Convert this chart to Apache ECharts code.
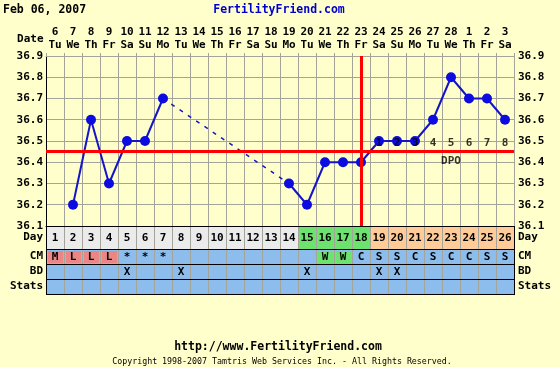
<!DOCTYPE html>
<html>
<head>
<meta charset="utf-8">
<script src="https://cdn.jsdelivr.net/npm/echarts@6/dist/echarts.min.js"></script>
<style>
html,body{margin:0;padding:0;background:#ffffcc;}
#chart{width:560px;height:367px;}
</style>
</head>
<body>
<div id="chart"></div>
<script>
// ---------- data ----------
const chartDate = 'Feb 06, 2007';
const siteName = 'FertilityFriend.com';
const siteUrl = 'http://www.FertilityFriend.com';
const copyright = 'Copyright 1998-2007 Tamtris Web Services Inc. - All Rights Reserved.';

const dates = ['6','7','8','9','10','11','12','13','14','15','16','17','18','19','20','21','22','23','24','25','26','27','28','1','2','3'];
const weekdays = ['Tu','We','Th','Fr','Sa','Su','Mo','Tu','We','Th','Fr','Sa','Su','Mo','Tu','We','Th','Fr','Sa','Su','Mo','Tu','We','Th','Fr','Sa'];
const cycleDays = ['1','2','3','4','5','6','7','8','9','10','11','12','13','14','15','16','17','18','19','20','21','22','23','24','25','26'];
const temps = [null,36.2,36.6,36.3,36.5,36.5,36.7,null,null,null,null,null,null,36.3,36.2,36.4,36.4,36.4,36.5,36.5,36.5,36.6,36.8,36.7,36.7,36.6];
const dayPhase = ['n','n','n','n','n','n','n','n','n','n','n','n','n','n','f','f','f','f','l','l','l','l','l','l','l','l'];
const cm = ['M','L','L','L','*','*','*','','','','','','','','','W','W','C','S','S','C','S','C','C','S','S'];
const bd = ['','','','','X','','','X','','','','','','','X','','','','X','X','','','','','',''];
const stats = ['','','','','','','','','','','','','','','','','','','','','','','','','',''];
const tableRows = ['CM','BD','Stats'];
const dpoLabels = ['1','2','3','4','5','6','7','8'];
const dpoStartDay = 19;
const coverline = 36.45;
const ovulationDay = 18;
const yTicks = ['36.1','36.2','36.3','36.4','36.5','36.6','36.7','36.8','36.9'];

// ---------- styles ----------
const FONT = 'DejaVu Sans Mono';
const BG = '#ffffcc';
const GRID_C = '#a4a49a';
const phaseColor = {n:'#ebebeb', f:'#6ee26e', l:'#ffcc99'};
const cmColor = {M:'#ec8585', L:'#ec8585', W:'#6ee26e'};
const ROW_BG = '#8dbded';
const txt = {fontFamily: FONT, fontWeight: 'bold', fontSize: 11, color: '#000'};

// dashed gap line: endpoints of gaps in temps
const gapLine = temps.map(() => null);
(function(){
  let last = -1;
  temps.forEach((t, i) => {
    if (t == null) return;
    if (last >= 0 && i - last > 1) { gapLine[last] = temps[last]; gapLine[i] = t; }
    last = i;
  });
})();

const crisp = v => Math.round(v - 0.5) + 0.5;

const tableSeriesData = [];
const tableTexts = [];
[cm, bd, stats].forEach((arr, r) => arr.forEach((t, c) => { tableSeriesData.push([c, r]); tableTexts.push(t); }));

const chart = echarts.init(document.getElementById('chart'), null, {renderer: 'canvas'});

const option = {
  backgroundColor: BG,
  animation: false,
  textStyle: {fontFamily: FONT},
  grid: [
    {left: 46, top: 56, width: 468, height: 170},
    {left: 46, top: 226, width: 468, height: 23},
    {left: 46, top: 249, width: 468, height: 45}
  ],
  xAxis: [
    {type: 'category', gridIndex: 0, data: cycleDays, position: 'bottom',
     axisLine: {lineStyle: {color: '#000', width: 1}}, axisTick: {show: false}, axisLabel: {show: false},
     splitLine: {show: true, interval: 0, lineStyle: {color: GRID_C, width: 1}}},
    {type: 'category', gridIndex: 0, data: dates, position: 'top',
     axisLine: {show: true, lineStyle: {color: GRID_C}},
     axisTick: {show: true, interval: 0, length: 3, lineStyle: {color: GRID_C}},
     axisLabel: {interval: 0, margin: 5, lineHeight: 12.5, fontFamily: FONT, fontWeight: 'bold', fontSize: 11, color: '#000',
       formatter: (v, i) => v + '\n' + weekdays[i]}},
    {type: 'category', gridIndex: 1, data: cycleDays, axisLine: {show: false}, axisTick: {show: false}, axisLabel: {show: false}, splitLine: {show: false}},
    {type: 'category', gridIndex: 2, data: cycleDays, axisLine: {show: false}, axisTick: {show: false}, axisLabel: {show: false}, splitLine: {show: false}}
  ],
  yAxis: [
    {type: 'value', gridIndex: 0, min: 36.1, max: 36.9, interval: 0.1, position: 'left',
     axisLine: {show: true, lineStyle: {color: '#000'}}, axisTick: {show: false},
     axisLabel: {margin: 3, fontFamily: FONT, fontWeight: 'bold', fontSize: 11, color: '#000', formatter: v => v.toFixed(1)},
     splitLine: {show: true, lineStyle: {color: GRID_C}}},
    {type: 'value', gridIndex: 0, min: 36.1, max: 36.9, interval: 0.1, position: 'right',
     axisLine: {show: true, lineStyle: {color: GRID_C}}, axisTick: {show: false},
     axisLabel: {margin: 4, fontFamily: FONT, fontWeight: 'bold', fontSize: 11, color: '#000', formatter: v => v.toFixed(1)},
     splitLine: {show: false}},
    {type: 'category', gridIndex: 1, data: ['Day'], position: 'left', axisLine: {show: false}, axisTick: {show: false},
     axisLabel: {margin: 3, fontFamily: FONT, fontWeight: 'bold', fontSize: 11, color: '#000'}},
    {type: 'category', gridIndex: 1, data: ['Day'], position: 'right', axisLine: {show: false}, axisTick: {show: false},
     axisLabel: {margin: 4, fontFamily: FONT, fontWeight: 'bold', fontSize: 11, color: '#000'}},
    {type: 'category', gridIndex: 2, data: tableRows, inverse: true, position: 'left', axisLine: {show: false}, axisTick: {show: false},
     axisLabel: {margin: 3, fontFamily: FONT, fontWeight: 'bold', fontSize: 11, color: '#000'}},
    {type: 'category', gridIndex: 2, data: tableRows, inverse: true, position: 'right', axisLine: {show: false}, axisTick: {show: false},
     axisLabel: {margin: 4, fontFamily: FONT, fontWeight: 'bold', fontSize: 11, color: '#000'}}
  ],
  series: [
    {
      type: 'line', xAxisIndex: 0, yAxisIndex: 0, data: gapLine, connectNulls: true,
      showSymbol: false, symbol: 'none', z: 3,
      lineStyle: {color: '#1414c8', width: 1.5, type: [4, 6]}
    },
    {
      type: 'line', xAxisIndex: 0, yAxisIndex: 0, data: temps, connectNulls: false,
      symbol: 'circle', symbolSize: 10, showAllSymbol: true, z: 4,
      itemStyle: {color: '#0c0ce0'},
      lineStyle: {color: '#1414c8', width: 2},
      markLine: {
        silent: true, symbol: 'none', label: {show: false},
        lineStyle: {color: '#ff0000', width: 3, type: 'solid'},
        data: [{yAxis: coverline}, {xAxis: ovulationDay - 1}]
      }
    },
    {
      type: 'scatter', xAxisIndex: 0, yAxisIndex: 0, symbolSize: 0, z: 6,
      data: dpoLabels.map((d, i) => [dpoStartDay - 1 + i, 36.5]),
      label: {show: true, position: 'inside', offset: [0, 2], fontFamily: FONT, fontWeight: 'bold', fontSize: 11, color: '#000',
        formatter: p => dpoLabels[p.dataIndex]}
    },
    {
      type: 'scatter', xAxisIndex: 0, yAxisIndex: 0, symbolSize: 0, z: 6,
      data: [[dpoStartDay + 3, 36.4]],
      label: {show: true, position: 'inside', offset: [0, -1], fontFamily: FONT, fontWeight: 'bold', fontSize: 11, color: '#000',
        formatter: 'DPO'}
    },
    {
      type: 'custom', xAxisIndex: 2, yAxisIndex: 2, z: 2,
      data: cycleDays.map((d, i) => [i, 0]),
      renderItem: (params, api) => {
        const i = api.value(0);
        const c = api.coord([i, 0]);
        const s = api.size([1, 1]);
        const x0 = crisp(c[0] - s[0] / 2), x1 = crisp(c[0] + s[0] / 2);
        const y0 = crisp(c[1] - s[1] / 2), y1 = crisp(c[1] + s[1] / 2);
        const ch = [
          {type: 'rect', shape: {x: x0, y: y0, width: x1 - x0, height: y1 - y0}, style: {fill: phaseColor[dayPhase[i]]}, z2: 0},
          {type: 'line', shape: {x1: x1, y1: y0, x2: x1, y2: y1}, style: {stroke: i === cycleDays.length - 1 ? '#000' : GRID_C, lineWidth: 1}, z2: 1},
          {type: 'line', shape: {x1: x0 - 0.5, y1: y0, x2: x1 + 0.5, y2: y0}, style: {stroke: '#000', lineWidth: 1}, z2: 2},
          {type: 'line', shape: {x1: x0 - 0.5, y1: y1, x2: x1 + 0.5, y2: y1}, style: {stroke: '#000', lineWidth: 1}, z2: 2},
          {type: 'text', x: c[0], y: c[1] + 1, style: {text: cycleDays[i], textAlign: 'center', textVerticalAlign: 'middle',
            font: 'bold 11px "' + FONT + '"', fill: '#000'}, z2: 3}
        ];
        if (i === 0) ch.push({type: 'line', shape: {x1: x0, y1: y0, x2: x0, y2: y1}, style: {stroke: '#000', lineWidth: 1}, z2: 2});
        return {type: 'group', children: ch};
      }
    },
    {
      type: 'custom', xAxisIndex: 3, yAxisIndex: 4, z: 2,
      data: tableSeriesData,
      renderItem: (params, api) => {
        const i = api.value(0), r = api.value(1);
        const c = api.coord([i, r]);
        const s = api.size([1, 1]);
        const x0 = crisp(c[0] - s[0] / 2), x1 = crisp(c[0] + s[0] / 2);
        const y0 = crisp(c[1] - s[1] / 2), y1 = crisp(c[1] + s[1] / 2);
        const t = tableTexts[params.dataIndex];
        const ch = [
          {type: 'rect', shape: {x: x0, y: y0, width: x1 - x0, height: y1 - y0}, style: {fill: ROW_BG}, z2: 0},
          {type: 'line', shape: {x1: x1, y1: y0, x2: x1, y2: y1}, style: {stroke: i === cycleDays.length - 1 ? '#000' : GRID_C, lineWidth: 1}, z2: 1},
          {type: 'line', shape: {x1: x0 - 0.5, y1: y1, x2: x1 + 0.5, y2: y1}, style: {stroke: '#000', lineWidth: 1}, z2: 2}
        ];
        if (r === 0 && cmColor[t]) {
          ch.push({type: 'rect', shape: {x: x0 + 1.5, y: y0 + 1.5, width: x1 - x0 - 3, height: y1 - y0 - 3}, style: {fill: cmColor[t]}, z2: 0.5});
        }
        if (i === 0) ch.push({type: 'line', shape: {x1: x0, y1: y0, x2: x0, y2: y1}, style: {stroke: '#000', lineWidth: 1}, z2: 2});
        if (t) ch.push({type: 'text', x: c[0], y: c[1] + 1, style: {text: t, textAlign: 'center', textVerticalAlign: 'middle',
            font: 'bold 11px "' + FONT + '"', fill: '#000'}, z2: 3});
        return {type: 'group', children: ch};
      }
    }
  ],
  graphic: [
    {type: 'text', left: 3, top: 4, style: {text: chartDate, font: 'bold 11.5px "' + FONT + '"', fill: '#000'}},
    {type: 'text', x: 279, y: 10, style: {text: siteName, font: 'bold 11.5px "' + FONT + '"', fill: '#0000cc', textAlign: 'center', textVerticalAlign: 'middle'}},
    {type: 'text', x: 43.5, y: 39, style: {text: 'Date', font: 'bold 11px "' + FONT + '"', fill: '#000', textAlign: 'right', textVerticalAlign: 'middle'}},
    {type: 'text', x: 278, y: 347, style: {text: siteUrl, font: 'bold 11.5px "' + FONT + '"', fill: '#000', textAlign: 'center', textVerticalAlign: 'middle'}},
    {type: 'text', x: 282, y: 362, style: {text: copyright, font: '8.3px "' + FONT + '"', fill: '#000', textAlign: 'center', textVerticalAlign: 'middle'}}
  ]
};
chart.setOption(option);
</script>
</body>
</html>
